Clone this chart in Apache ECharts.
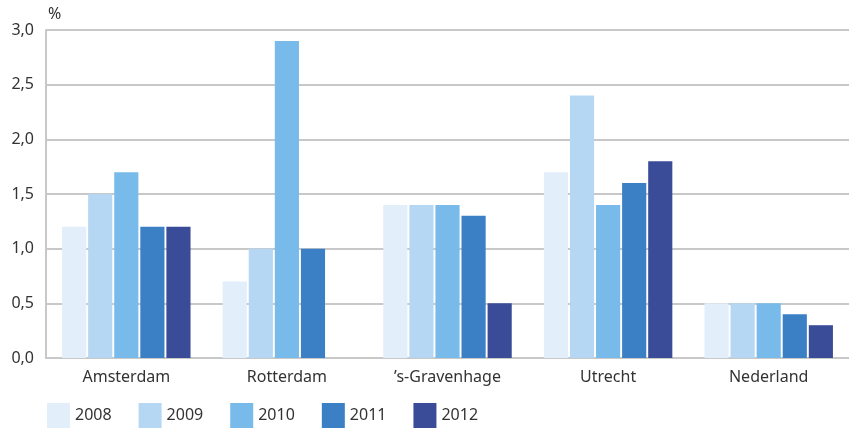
<!DOCTYPE html>
<html><head><meta charset="utf-8">
<script src="https://cdn.jsdelivr.net/npm/echarts@6/dist/echarts.min.js"></script>
<style>html,body{margin:0;padding:0;background:#fff}#c{width:849px;height:428px}</style>
</head><body><div id="c"></div>
<script>
const categories = ["Amsterdam", "Rotterdam", "’s-Gravenhage", "Utrecht", "Nederland"];
const years = ["2008", "2009", "2010", "2011", "2012"];
const v2008 = [1.2, 0.7, 1.4, 1.7, 0.5];
const v2009 = [1.5, 1.0, 1.4, 2.4, 0.5];
const v2010 = [1.7, 2.9, 1.4, 1.4, 0.5];
const v2011 = [1.2, 1.0, 1.3, 1.6, 0.4];
const v2012 = [1.2, 0.0, 0.5, 1.8, 0.3];
const values = [v2008, v2009, v2010, v2011, v2012];
const colors = ["#e2eefa", "#b5d7f3", "#78bbeb", "#3b7fc4", "#3a4c98"];
const font = "'Noto Sans', sans-serif";
const chart = echarts.init(document.getElementById('c'));
chart.setOption({
  animation: false,
  grid: {left: 46, right: 0, top: 30, bottom: 70, containLabel: false},
  legend: {
    left: 47, top: 403, padding: 0, itemWidth: 23, itemHeight: 25, itemGap: 27,
    icon: 'rect',
    textStyle: {fontFamily: font, fontSize: 16, color: '#333', padding: [11, 0, 0, 0]},
    data: years
  },
  xAxis: {
    type: 'category', data: categories,
    axisLine: {lineStyle: {color: '#c8c8c8', width: 2}},
    axisTick: {show: false},
    axisLabel: {fontFamily: font, fontSize: 16, color: '#333', margin: 11}
  },
  yAxis: {
    type: 'value', min: 0, max: 3, interval: 0.5,
    name: '%', nameLocation: 'end', nameGap: 8,
    nameTextStyle: {fontFamily: font, fontSize: 16, color: '#333', align: 'left', padding: [0, 0, 0, 2]},
    axisLine: {show: true, lineStyle: {color: '#c8c8c8', width: 2}},
    axisTick: {show: false},
    splitLine: {lineStyle: {color: '#c8c8c8', width: 2}},
    axisLabel: {fontFamily: font, fontSize: 16, color: '#333', margin: 12,
      formatter: v => v.toFixed(1).replace('.', ',')}
  },
  series: years.map((y, i) => ({
    name: y, type: 'bar', data: values[i],
    itemStyle: {color: colors[i]},
    barGap: '8%', barCategoryGap: '20%'
  }))
});
</script></body></html>
